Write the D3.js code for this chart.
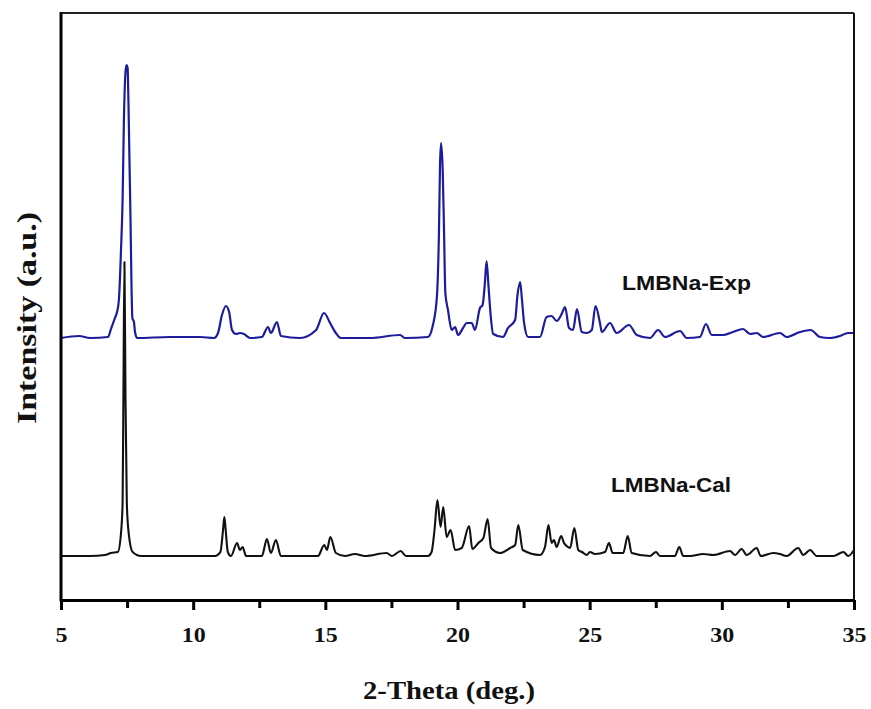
<!doctype html>
<html lang="en">
<head>
  <meta charset="utf-8">
  <title>LMBNa XRD</title>
  <script src="https://cdn.jsdelivr.net/npm/d3@7"></script>
  <style>
    body { margin: 0; background: #fff; }
  </style>
</head>
<body>
<svg id="chart" width="871" height="709"></svg>

<script>
    // 2-theta (deg) and intensity (a.u., above each pattern's own baseline)
    var expTheta = [5.00, 5.68, 6.10, 6.78, 6.89, 7.04, 7.12, 7.19, 7.27, 7.33, 7.38, 7.44, 7.48, 7.52, 7.55, 7.59, 7.63, 7.67, 7.70, 7.76, 7.80, 7.88,
        9.12, 10.26, 10.79, 10.94, 11.09, 11.24, 11.36, 11.47, 11.62, 11.77, 11.92, 12.15, 12.60, 12.83, 12.94, 13.17, 13.32,
        14.04, 14.65, 14.95, 15.18, 15.37, 15.59, 16.69, 17.83, 18.01, 18.88, 19.07, 19.22, 19.30, 19.34, 19.38, 19.44, 19.49, 19.54,
        19.64, 19.78, 19.91, 20.02, 20.21, 20.35, 20.54, 20.66, 20.85, 20.95, 21.03, 21.10, 21.17, 21.26, 21.35, 21.72, 21.91, 22.18,
        22.27, 22.37, 22.44, 22.52, 22.67, 23.12, 23.37, 23.56, 23.75, 23.94, 24.07, 24.22, 24.37, 24.52, 24.70, 24.89, 25.08, 25.22,
        25.39, 25.46, 25.77, 26.02, 26.49, 26.78, 27.28, 27.59, 27.85, 28.42, 28.67, 29.17, 29.40, 29.62, 30.04, 30.42, 30.80, 31.07,
        31.32, 31.56, 32.20, 32.45, 32.96, 33.36, 33.71, 34.09, 34.47, 34.77, 35.00];
    var expInt = [0, 2, 0, 1, 9, 20, 26, 38, 88, 138, 218, 266, 273, 270, 238, 178, 118, 48, 20, 16, 6, 0,
        1, 1, 0, 5, 23, 32, 26, 8, 4, 5, 4, 0, 1, 11, 5, 16, 2,
        0, 8, 25, 15, 6, 0, 0, 3, 0, 1, 13, 41, 108, 175, 195, 168, 108, 45,
        28, 8, 11, 3, 10, 15, 15, 8, 30, 33, 53, 77, 53, 21, 4, 1, 10, 18,
        43, 56, 38, 15, 1, 1, 21, 22, 17, 24, 31, 10, 8, 29, 6, 5, 8, 32,
        15, 6, 15, 5, 13, 3, 0, 8, 1, 7, 0, 1, 14, 3, 3, 6, 9, 4,
        5, 1, 5, 1, 6, 8, 1, 0, 2, 5, 5];

    var calTheta = [5.00, 6.10, 6.66, 6.89, 7.15, 7.27, 7.33, 7.36, 7.40, 7.44, 7.49, 7.56, 7.71, 8.03, 9.50,
        10.83, 11.03, 11.13, 11.18, 11.23, 11.31, 11.43, 11.66, 11.77, 11.87, 12.00, 12.60, 12.79, 12.94, 13.13, 13.32,
        14.72, 14.96, 15.06, 15.19, 15.40, 15.74, 16.12, 16.50, 17.32, 17.52, 17.85, 18.05, 18.88, 19.02, 19.13, 19.24,
        19.36, 19.46, 19.59, 19.74, 19.91, 20.16, 20.44, 20.56, 20.79, 20.98, 21.14, 21.27, 21.61, 21.99, 22.18, 22.30,
        22.47, 23.12, 23.31, 23.44, 23.56, 23.65, 23.75, 23.92, 24.03, 24.13, 24.26, 24.42, 24.57, 24.71, 24.89, 25.01,
        25.20, 25.58, 25.73, 25.87, 26.27, 26.44, 26.59, 27.28, 27.51, 27.66, 28.22, 28.39, 28.54, 28.80, 29.30, 29.68,
        30.31, 30.50, 30.75, 30.94, 31.32, 31.47, 31.95, 32.20, 32.45, 32.89, 33.08, 33.34, 33.59, 34.22, 34.60, 34.78, 35.00];
    var calInt = [0, 0, 1, 3, 4, 23, 53, 156, 294, 156, 53, 23, 4, 0, 0,
        0, 4, 26, 39, 26, 4, 0, 13, 6, 9, 0, 0, 17, 3, 16, 0,
        0, 11, 6, 19, 3, 0, 2, 0, 3, 0, 5, 0, 0, 4, 26, 56,
        29, 49, 19, 26, 6, 8, 30, 7, 13, 18, 37, 8, 3, 8, 11, 31,
        6, 1, 9, 31, 13, 16, 9, 20, 13, 10, 8, 28, 6, 4, 1, 4,
        2, 4, 13, 3, 3, 20, 3, 0, 4, 0, 0, 9, 0, 0, 2, 1,
        5, 1, 7, 1, 8, 0, 3, 2, 0, 8, 1, 6, 0, 0, 4, 0, 6];

    // vertical stacking of the two patterns
    var expOffset = 262;
    var calOffset = 44;

    var majorTicks = [5, 10, 15, 20, 25, 30, 35];
    var minorTicks = [7.5, 12.5, 17.5, 22.5, 27.5, 32.5];

    var svg = d3.select("#chart");
    var mLeft = 61, mRight = 854, mTop = 13, mBottom = 600;

    var x = d3.scaleLinear().domain([5, 35]).range([mLeft, mRight]);
    var y = d3.scaleLinear().domain([0, 587]).range([mBottom, mTop]);

    var expData = d3.zip(expTheta, expInt);
    var calData = d3.zip(calTheta, calInt);

    var expLine = d3.line()
        .x(function(d) { return x(d[0]); })
        .y(function(d) { return y(d[1] + expOffset); })
        .curve(d3.curveMonotoneX);

    var calLine = d3.line()
        .x(function(d) { return x(d[0]); })
        .y(function(d) { return y(d[1] + calOffset); })
        .curve(d3.curveMonotoneX);

    svg.append("path")
        .datum(expData)
        .attr("d", expLine)
        .attr("fill", "none")
        .attr("stroke", "#1c1c9c")
        .attr("stroke-width", 2.2)
        .attr("stroke-linejoin", "round");

    svg.append("path")
        .datum(calData)
        .attr("d", calLine)
        .attr("fill", "none")
        .attr("stroke", "#111")
        .attr("stroke-width", 2.1)
        .attr("stroke-linejoin", "round");

    // frame
    svg.append("line").attr("x1", mLeft).attr("x2", mRight).attr("y1", mTop).attr("y2", mTop)
        .attr("stroke", "#222").attr("stroke-width", 2);
    svg.append("line").attr("x1", mRight).attr("x2", mRight).attr("y1", mTop).attr("y2", mBottom)
        .attr("stroke", "#111").attr("stroke-width", 2);
    svg.append("line").attr("x1", mLeft).attr("x2", mLeft).attr("y1", mTop - 1).attr("y2", mBottom + 1.5)
        .attr("stroke", "#000").attr("stroke-width", 3);

    // x axis
    var gx = svg.append("g").attr("transform", "translate(0," + mBottom + ")");
    gx.call(d3.axisBottom(x).tickValues(majorTicks).tickSize(10).tickSizeOuter(0).tickFormat(d3.format("d")));
    gx.select(".domain").attr("stroke", "#000").attr("stroke-width", 3);
    gx.selectAll(".tick line").attr("stroke", "#000").attr("stroke-width", 3);
    gx.selectAll(".tick text")
        .attr("y", 26)
        .attr("dy", "0.71em")
        .attr("font-family", "'Liberation Serif', 'Times New Roman', serif")
        .attr("font-weight", "bold")
        .attr("font-size", 22)
        .attr("textLength", function(d) { return String(d).length * 12; })
        .attr("lengthAdjust", "spacingAndGlyphs")
        .attr("fill", "#111");

    var gm = svg.append("g").attr("transform", "translate(0," + mBottom + ")");
    gm.call(d3.axisBottom(x).tickValues(minorTicks).tickSize(8).tickSizeOuter(0).tickFormat(""));
    gm.select(".domain").remove();
    gm.selectAll(".tick line").attr("stroke", "#000").attr("stroke-width", 3);

    // series labels
    svg.append("text")
        .attr("x", 622).attr("y", 290)
        .attr("textLength", 129).attr("lengthAdjust", "spacingAndGlyphs")
        .style("font-family", "'Liberation Sans', Arial, sans-serif")
        .style("font-weight", "bold").style("font-size", "20px")
        .attr("fill", "#111")
        .text("LMBNa-Exp");

    svg.append("text")
        .attr("x", 611).attr("y", 492)
        .attr("textLength", 120).attr("lengthAdjust", "spacingAndGlyphs")
        .style("font-family", "'Liberation Sans', Arial, sans-serif")
        .style("font-weight", "bold").style("font-size", "20px")
        .attr("fill", "#111")
        .text("LMBNa-Cal");

    // axis titles
    svg.append("text")
        .attr("x", 449).attr("y", 699)
        .attr("text-anchor", "middle")
        .attr("textLength", 172).attr("lengthAdjust", "spacingAndGlyphs")
        .style("font-family", "'Liberation Serif', 'Times New Roman', serif")
        .style("font-weight", "bold").style("font-size", "25px")
        .attr("fill", "#111")
        .text("2-Theta (deg.)");

    svg.append("text")
        .attr("transform", "translate(36,318) rotate(-90)")
        .attr("text-anchor", "middle")
        .attr("textLength", 212).attr("lengthAdjust", "spacingAndGlyphs")
        .style("font-family", "'Liberation Serif', 'Times New Roman', serif")
        .style("font-weight", "bold").style("font-size", "28px")
        .attr("fill", "#111")
        .text("Intensity (a.u.)");
</script>
</body>
</html>
